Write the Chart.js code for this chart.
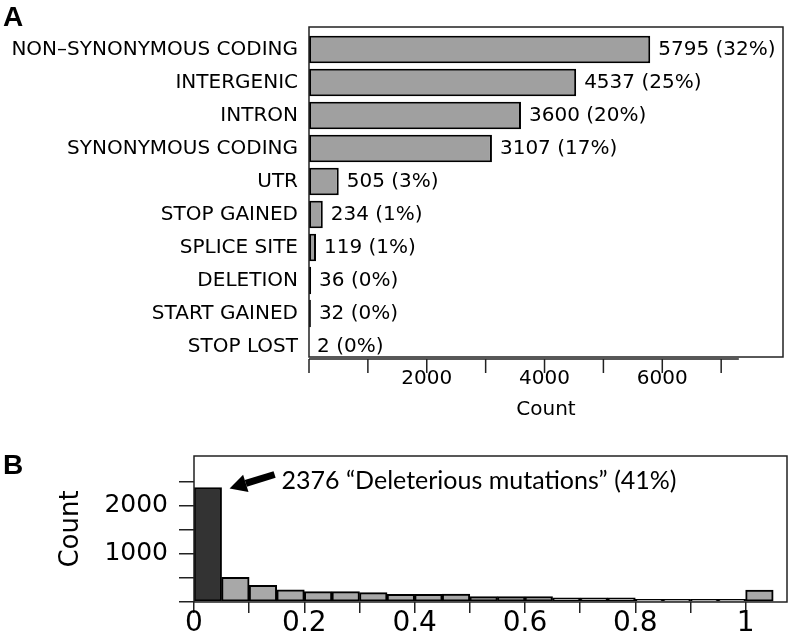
<!DOCTYPE html>
<html><head><meta charset="utf-8">
<script src="https://cdn.jsdelivr.net/npm/chart.js@4"></script>
<style>
html,body{margin:0;padding:0;background:#fff;width:792px;height:638px;overflow:hidden;position:relative;}
.panel{position:absolute;font-family:"Liberation Sans",Arial,sans-serif;font-weight:bold;font-size:28px;line-height:1;color:#000;}
</style></head><body>
<canvas id="chartA" width="792" height="430" style="position:absolute;left:0;top:0"></canvas>
<canvas id="chartB" width="792" height="208" style="position:absolute;left:0;top:430px"></canvas>
<div class="panel" style="left:3px;top:3px">A</div>
<div class="panel" style="left:3px;top:451px">B</div>
<script>
// ---- Panel A data ----
const categories = ['NON–SYNONYMOUS CODING','INTERGENIC','INTRON','SYNONYMOUS CODING','UTR','STOP GAINED','SPLICE SITE','DELETION','START GAINED','STOP LOST'];
const counts = [5795, 4537, 3600, 3107, 505, 234, 119, 36, 32, 2];
const percents = [32, 25, 20, 17, 3, 1, 1, 0, 0, 0];
const countTicks = [0, 1000, 2000, 3000, 4000, 5000, 6000, 7000];
const countTickLabels = ['', '', '2000', '', '4000', '', '6000', ''];

// ---- Panel B data ----
const binLeft = [0, 0.05, 0.1, 0.15, 0.2, 0.25, 0.3, 0.35, 0.4, 0.45, 0.5, 0.55, 0.6, 0.65, 0.7, 0.75, 0.8, 0.85, 0.9, 0.95, 1.0];
const histCounts = [2376, 510, 345, 250, 215, 215, 195, 160, 160, 165, 110, 110, 115, 85, 85, 85, 55, 55, 55, 55, 245];
const binWidth = 0.05;
const scoreTicks = [0, 0.1, 0.2, 0.3, 0.4, 0.5, 0.6, 0.7, 0.8, 0.9, 1.0];
const scoreTickLabels = ['0', '', '0.2', '', '0.4', '', '0.6', '', '0.8', '', '1'];
const histYTicks = [0, 500, 1000, 1500, 2000, 2500];
const histYTickLabels = ['', '', '1000', '', '2000', ''];
const deleteriousPct = 41;

const DV = '"DejaVu Sans", sans-serif';

const panelAPlugin = {
  id: 'panelA',
  afterDatasetsDraw(chart) {
    const {ctx, chartArea: a, scales: {x}} = chart;
    ctx.save();
    ctx.strokeStyle = '#222';
    ctx.lineWidth = 1.5;
    ctx.strokeRect(a.left, a.top - 6, a.right - a.left, a.bottom - a.top);
    const y0 = a.bottom - 4;
    ctx.beginPath();
    ctx.moveTo(x.getPixelForValue(0), y0);
    ctx.lineTo(x.getPixelForValue(countTicks[countTicks.length - 1] + 300), y0);
    countTicks.forEach(v => {
      const px = x.getPixelForValue(v);
      ctx.moveTo(px, y0);
      ctx.lineTo(px, y0 + 14);
    });
    ctx.stroke();
    ctx.fillStyle = '#000';
    ctx.font = '20px ' + DV;
    ctx.textBaseline = 'middle';
    ctx.textAlign = 'left';
    chart.getDatasetMeta(0).data.forEach((bar, i) => {
      ctx.fillText(counts[i] + ' (' + percents[i] + '%)', bar.x + 8, bar.y);
    });
    ctx.restore();
  }
};

new Chart(document.getElementById('chartA'), {
  type: 'bar',
  data: {
    labels: categories,
    datasets: [{
      data: counts,
      backgroundColor: '#a0a0a0',
      borderColor: '#000',
      borderWidth: 2,
      borderSkipped: false,
      barPercentage: 0.83,
      categoryPercentage: 1
    }]
  },
  options: {
    indexAxis: 'y',
    responsive: false,
    animation: false,
    devicePixelRatio: 1,
    layout: {padding: {left: 0, right: 9, top: 33, bottom: 8}},
    plugins: {legend: {display: false}, tooltip: {enabled: false}},
    scales: {
      x: {
        type: 'linear', min: 0, max: 8050,
        afterBuildTicks: s => { s.ticks = countTicks.map(v => ({value: v})); },
        afterFit: s => { s.height = 59; },
        grid: {display: false, drawTicks: false},
        border: {display: false},
        ticks: {
          autoSkip: false, maxRotation: 0, padding: 4, color: '#000',
          font: {family: DV, size: 20},
          callback: (v, i) => countTickLabels[i]
        },
        title: {display: true, text: 'Count', color: '#000', font: {family: DV, size: 20}, padding: {top: 0, bottom: 0}}
      },
      y: {
        afterFit: s => { s.width = 309; },
        grid: {display: false, drawTicks: false},
        border: {display: false},
        ticks: {autoSkip: false, padding: 11, color: '#000', font: {family: DV, size: 20}}
      }
    }
  },
  plugins: [panelAPlugin]
});

const panelBPlugin = {
  id: 'panelB',
  afterDatasetsDraw(chart) {
    const {ctx, chartArea: a} = chart;
    ctx.save();
    ctx.strokeStyle = '#222';
    ctx.lineWidth = 1.5;
    ctx.strokeRect(a.left, a.top, a.right - a.left, a.bottom - a.top);
    const bar = chart.getDatasetMeta(0).data[0];
    const tipX = bar.x + bar.width / 2 + 8, tipY = bar.y + 1;
    const tailX = tipX + 45, tailY = tipY - 14;
    const ang = Math.atan2(tipY - tailY, tipX - tailX);
    const headLen = 17, headW = 9;
    const bx = tipX - headLen * Math.cos(ang), by = tipY - headLen * Math.sin(ang);
    ctx.strokeStyle = '#000';
    ctx.lineWidth = 7;
    ctx.beginPath(); ctx.moveTo(tailX, tailY); ctx.lineTo(bx, by); ctx.stroke();
    ctx.fillStyle = '#000';
    ctx.beginPath();
    ctx.moveTo(tipX, tipY);
    ctx.lineTo(bx + headW * Math.sin(ang), by - headW * Math.cos(ang));
    ctx.lineTo(bx - headW * Math.sin(ang), by + headW * Math.cos(ang));
    ctx.closePath(); ctx.fill();
    ctx.font = '25px Lato, "Open Sans", sans-serif';
    ctx.textBaseline = 'alphabetic';
    ctx.textAlign = 'left';
    ctx.fillText(histCounts[0] + ' \u201CDeleterious mutations\u201D (' + deleteriousPct + '%)', tipX + 52, tipY);
    ctx.restore();
  }
};

new Chart(document.getElementById('chartB'), {
  type: 'bar',
  data: {
    datasets: [{
      data: binLeft.map((x0, i) => ({x: x0 + binWidth / 2, y: histCounts[i]})),
      backgroundColor: histCounts.map((v, i) => i === 0 ? '#333333' : '#a8a8a8'),
      borderColor: '#000',
      borderWidth: 2,
      borderSkipped: false,
      barPercentage: 1,
      categoryPercentage: 1
    }]
  },
  options: {
    responsive: false,
    animation: false,
    devicePixelRatio: 1,
    layout: {padding: {left: 0, right: 5, top: 25, bottom: 0}},
    plugins: {legend: {display: false}, tooltip: {enabled: false}},
    scales: {
      x: {
        type: 'linear', min: 0, max: 1.075, offset: false,
        afterBuildTicks: s => { s.ticks = scoreTicks.map(v => ({value: v})); },
        afterFit: s => { s.height = 36; },
        grid: {display: true, drawOnChartArea: false, tickLength: 11, color: '#222', lineWidth: 1.5, offset: false},
        border: {display: false},
        ticks: {
          autoSkip: false, maxRotation: 0, padding: -3, color: '#000',
          font: {family: DV, size: 28, lineHeight: 1},
          callback: (v, i) => scoreTickLabels[i]
        }
      },
      y: {
        type: 'linear', min: 0, max: 3030,
        afterBuildTicks: s => { s.ticks = histYTicks.map(v => ({value: v})); },
        afterFit: s => { s.width = 194; },
        grid: {display: true, drawOnChartArea: false, tickLength: 15, color: '#222', lineWidth: 1.5},
        border: {display: false},
        ticks: {
          autoSkip: false, padding: 11, color: '#000',
          font: {family: DV, size: 25},
          callback: (v, i) => histYTickLabels[i]
        },
        title: {display: true, text: 'Count', color: '#000', font: {family: DV, size: 26}, padding: {top: 56, bottom: 0}}
      }
    }
  },
  plugins: [panelBPlugin]
});
</script>
</body></html>
